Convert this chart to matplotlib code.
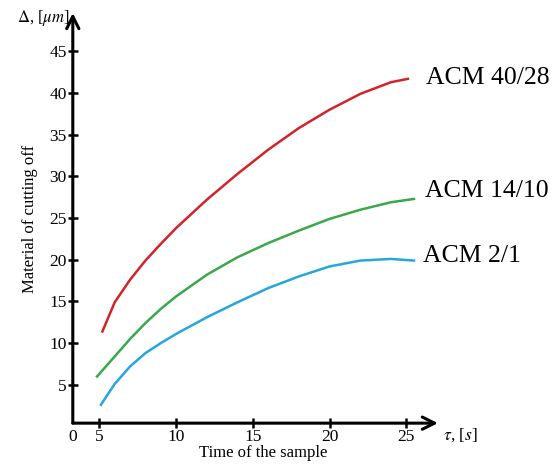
import numpy as np
import matplotlib
matplotlib.use('Agg')
import matplotlib.pyplot as plt

plt.rcParams['font.family'] = 'Liberation Serif'
plt.rcParams['mathtext.fontset'] = 'stix'

# data
t_red = [5.2, 6, 7, 8, 9, 10, 12, 14, 16, 18, 20, 22, 24, 25.1]
v_red = [11.4, 14.9, 17.6, 19.9, 21.9, 23.8, 27.2, 30.3, 33.2, 35.8, 38.0, 39.9, 41.3, 41.7]
t_green = [4.85, 6, 7, 8, 9, 10, 12, 14, 16, 18, 20, 22, 24, 25.5]
v_green = [6.0, 8.4, 10.5, 12.4, 14.1, 15.6, 18.2, 20.3, 22.0, 23.5, 24.9, 26.0, 26.9, 27.3]
t_blue = [5.1, 6, 7, 8, 9, 10, 12, 14, 16, 18, 20, 22, 24, 25.5]
v_blue = [2.6, 5.1, 7.2, 8.8, 10.0, 11.1, 13.1, 14.9, 16.6, 18.0, 19.2, 19.9, 20.1, 19.9]
names = ['ACM 40/28', 'ACM 14/10', 'ACM 2/1']
label_pos = [(26.3, 41.8), (26.2, 28.3), (26.1, 20.5)]

x0 = 3.27  # where the axes corner sits
fig = plt.figure(figsize=(5.6, 4.65), dpi=100)
ax = fig.add_axes([0.130, 0.090, 0.652, 0.882])
ax.set_xlim(x0, 27.06)
ax.set_ylim(0.4, 49.6)

ax.plot(t_red, v_red, color='#d2232a', lw=1.8)
ax.plot(t_green, v_green, color='#3aa84a', lw=1.8)
ax.plot(t_blue, v_blue, color='#27a6de', lw=1.8)

for n, (px, py) in zip(names, label_pos):
    ax.text(px, py, n, fontsize=18.5, va='center', ha='left', clip_on=False)

for s in ax.spines.values():
    s.set_visible(False)
# axis arrows
ax.annotate('', xy=(1.0, 0), xytext=(0, 0), xycoords='axes fraction',
            arrowprops=dict(arrowstyle='->', lw=2.2, color='k', mutation_scale=22, shrinkA=0, shrinkB=0))
ax.annotate('', xy=(0, 1.0), xytext=(0, 0), xycoords='axes fraction',
            arrowprops=dict(arrowstyle='->', lw=2.2, color='k', mutation_scale=22, shrinkA=0, shrinkB=0))

ax.set_xticks([x0, 5, 10, 15, 20, 25])
ax.set_xticklabels(['0', '5', '10', '15', '20', '25'])
ax.set_yticks([5, 10, 15, 20, 25, 30, 35, 40, 45])
ax.tick_params(direction='inout', length=7, width=1.8, labelsize=12.5, pad=1)
ax.xaxis.get_major_ticks()[0].tick1line.set_visible(False)

fig.text(0.078, 0.962, r'$\Delta$, [$\mu m$]', fontsize=12, ha='center', va='center')
ax.text(27.4, -1.0, r'$\tau$, [$s$]', fontsize=12.5, ha='left', va='center', clip_on=False)
fig.text(0.47, 0.026, 'Time of the sample', fontsize=12, ha='center', va='center')
fig.text(0.053, 0.53, 'Material of cutting off', fontsize=12, rotation=90, ha='center', va='center')

plt.savefig('out.png', dpi=100)
